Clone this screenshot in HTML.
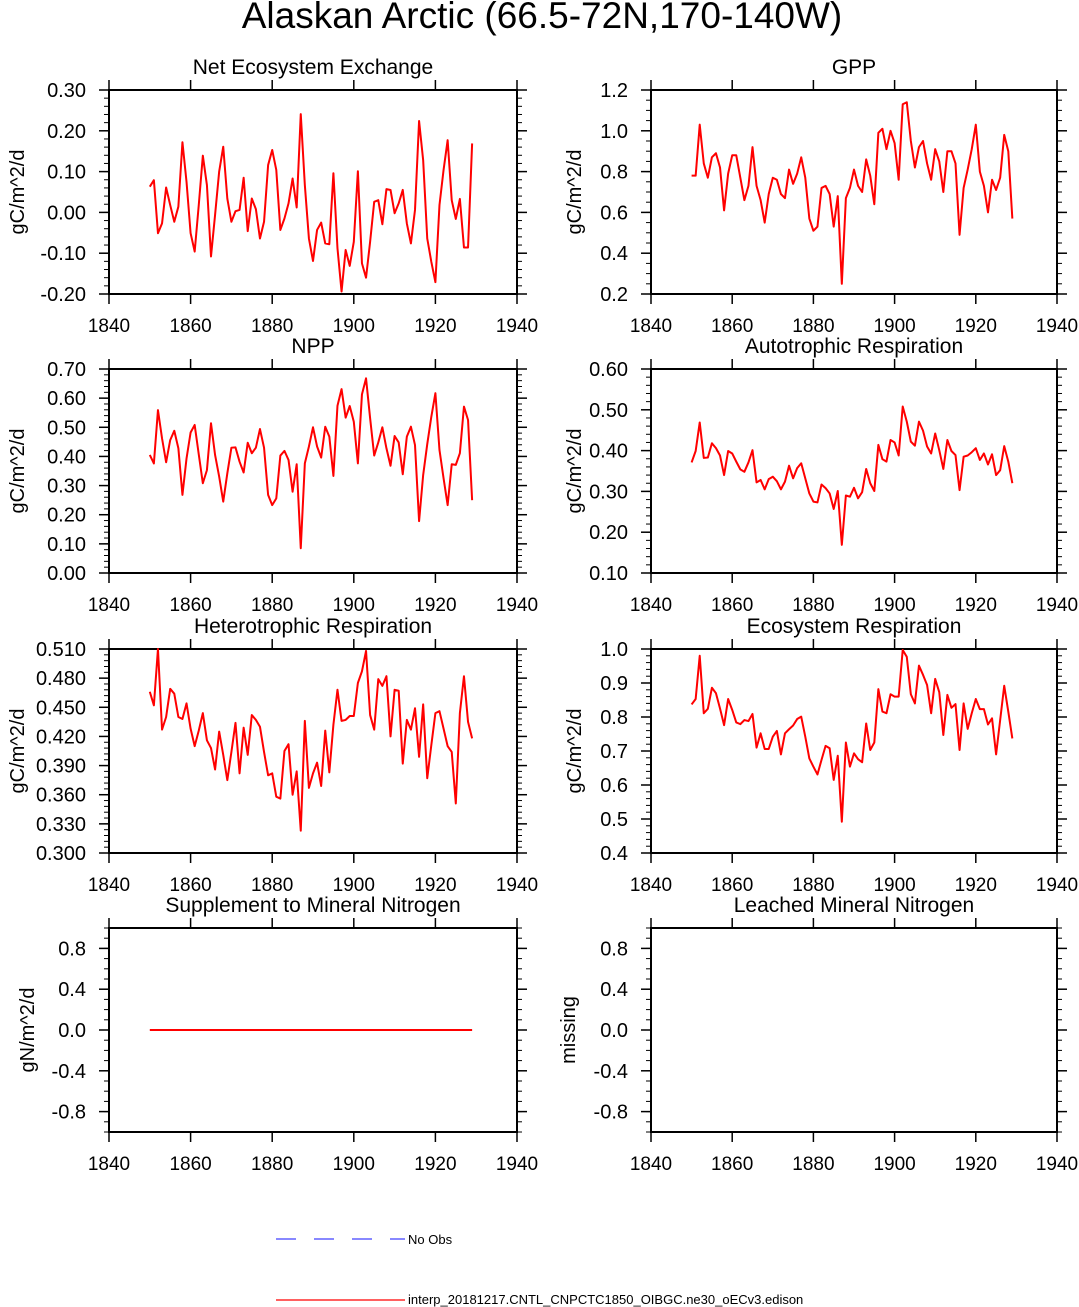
<!DOCTYPE html>
<html><head><meta charset="utf-8"><style>
html,body{margin:0;padding:0;background:#fff;}
svg{display:block;font-family:"Liberation Sans",Arial,sans-serif;}
</style></head><body>
<svg id="chart" width="1079" height="1307" viewBox="0 0 1079 1307" xmlns="http://www.w3.org/2000/svg">
<text x="542" y="28" font-size="37" text-anchor="middle">Alaskan Arctic (66.5-72N,170-140W)</text>
<g>
<line x1="276" y1="1239" x2="405" y2="1239" stroke="#4040ff" stroke-width="1.2" stroke-dasharray="20,18"/>
<text x="408" y="1244" font-size="13">No Obs</text>
<line x1="276" y1="1300" x2="405" y2="1300" stroke="#ff0000" stroke-width="1.2"/>
<text x="408" y="1304" font-size="13">interp_20181217.CNTL_CNPCTC1850_OIBGC.ne30_oECv3.edison</text>
</g>
</svg>
<script>
const years = Array.from({length:80},(_, i)=>1850+i);
const neeValues=[0.063,0.079,-0.051,-0.027,0.061,0.018,-0.023,0.014,0.172,0.075,-0.051,-0.096,0.018,0.139,0.067,-0.108,-0.006,0.1,0.161,0.034,-0.023,0.003,0.006,0.085,-0.046,0.034,0.008,-0.064,-0.023,0.116,0.153,0.104,-0.043,-0.015,0.022,0.083,0.012,0.241,0.067,-0.064,-0.119,-0.043,-0.025,-0.076,-0.078,0.096,-0.088,-0.194,-0.092,-0.131,-0.072,0.101,-0.125,-0.16,-0.072,0.026,0.03,-0.029,0.057,0.055,-0.002,0.022,0.055,-0.027,-0.076,0.006,0.224,0.128,-0.064,-0.121,-0.171,0.018,0.104,0.177,0.03,-0.016,0.033,-0.086,-0.086,0.169];
const gppValues=[0.78,0.78,1.03,0.84,0.77,0.87,0.89,0.82,0.61,0.79,0.88,0.88,0.77,0.66,0.73,0.92,0.73,0.66,0.55,0.69,0.77,0.76,0.69,0.67,0.81,0.74,0.79,0.87,0.77,0.57,0.51,0.53,0.72,0.73,0.69,0.53,0.68,0.25,0.67,0.72,0.81,0.73,0.70,0.86,0.78,0.64,0.99,1.01,0.91,1.0,0.94,0.76,1.13,1.14,0.95,0.82,0.92,0.95,0.84,0.76,0.91,0.85,0.70,0.9,0.9,0.84,0.49,0.72,0.81,0.91,1.03,0.80,0.73,0.60,0.76,0.71,0.77,0.98,0.90,0.57];
const nppValues=[0.405,0.376,0.559,0.462,0.380,0.456,0.488,0.428,0.268,0.393,0.482,0.508,0.407,0.308,0.353,0.514,0.405,0.331,0.245,0.342,0.430,0.431,0.382,0.345,0.447,0.411,0.430,0.494,0.430,0.268,0.233,0.256,0.403,0.419,0.388,0.279,0.373,0.085,0.376,0.434,0.500,0.434,0.396,0.502,0.468,0.333,0.574,0.631,0.533,0.573,0.519,0.376,0.613,0.668,0.531,0.403,0.448,0.500,0.428,0.368,0.470,0.448,0.339,0.468,0.502,0.439,0.178,0.336,0.442,0.536,0.617,0.422,0.325,0.233,0.373,0.371,0.411,0.571,0.525,0.250];
const arValues=[0.371,0.399,0.469,0.382,0.383,0.418,0.406,0.388,0.340,0.399,0.393,0.373,0.354,0.348,0.371,0.401,0.322,0.328,0.305,0.330,0.336,0.325,0.305,0.324,0.363,0.332,0.357,0.369,0.332,0.295,0.275,0.273,0.317,0.308,0.295,0.257,0.301,0.169,0.290,0.287,0.309,0.283,0.298,0.355,0.320,0.301,0.414,0.379,0.373,0.426,0.420,0.388,0.508,0.471,0.422,0.412,0.471,0.449,0.410,0.393,0.442,0.401,0.355,0.426,0.399,0.389,0.303,0.385,0.388,0.396,0.406,0.377,0.393,0.366,0.391,0.340,0.352,0.411,0.373,0.320];
const hrValues=[0.466,0.452,0.510,0.427,0.440,0.469,0.464,0.440,0.438,0.454,0.428,0.410,0.426,0.444,0.416,0.408,0.386,0.425,0.401,0.375,0.404,0.434,0.382,0.429,0.401,0.442,0.437,0.430,0.404,0.380,0.382,0.358,0.356,0.405,0.412,0.360,0.384,0.323,0.436,0.367,0.382,0.393,0.369,0.426,0.383,0.432,0.468,0.436,0.437,0.441,0.441,0.475,0.487,0.508,0.442,0.427,0.479,0.472,0.482,0.420,0.468,0.467,0.392,0.437,0.427,0.449,0.399,0.453,0.377,0.411,0.444,0.446,0.428,0.410,0.404,0.351,0.444,0.482,0.435,0.418];
const erValues=[0.837,0.853,0.980,0.811,0.824,0.886,0.870,0.825,0.776,0.853,0.821,0.784,0.779,0.791,0.788,0.809,0.710,0.752,0.706,0.706,0.742,0.759,0.690,0.752,0.764,0.775,0.794,0.801,0.742,0.678,0.654,0.631,0.674,0.715,0.708,0.615,0.686,0.492,0.725,0.654,0.693,0.676,0.667,0.781,0.703,0.725,0.882,0.816,0.811,0.867,0.860,0.860,0.997,0.977,0.867,0.840,0.951,0.924,0.894,0.811,0.912,0.873,0.747,0.865,0.827,0.838,0.703,0.840,0.765,0.811,0.853,0.823,0.823,0.778,0.796,0.690,0.791,0.892,0.816,0.737];
const snValues=years.map(()=>0);
const xTicks=[1840,1860,1880,1900,1920,1940];

const panels=[
 {name:'nee',title:'Net Ecosystem Exchange',ylab:'gC/m^2/d',col:0,row:0,min:-0.2,max:0.3,step:0.1,dec:2,minor:0.02,vals:neeValues},
 {name:'gpp',title:'GPP',ylab:'gC/m^2/d',col:1,row:0,min:0.2,max:1.2,step:0.2,dec:1,minor:0.05,vals:gppValues},
 {name:'npp',title:'NPP',ylab:'gC/m^2/d',col:0,row:1,min:0,max:0.7,step:0.1,dec:2,minor:0.02,vals:nppValues},
 {name:'autotrophic-respiration',title:'Autotrophic Respiration',ylab:'gC/m^2/d',col:1,row:1,min:0.1,max:0.6,step:0.1,dec:2,minor:0.02,vals:arValues},
 {name:'heterotrophic-respiration',title:'Heterotrophic Respiration',ylab:'gC/m^2/d',col:0,row:2,min:0.3,max:0.51,step:0.03,dec:3,minor:0.006,vals:hrValues},
 {name:'ecosystem-respiration',title:'Ecosystem Respiration',ylab:'gC/m^2/d',col:1,row:2,min:0.4,max:1.0,step:0.1,dec:1,minor:0.02,vals:erValues},
 {name:'supplement-mineral-nitrogen',title:'Supplement to Mineral Nitrogen',ylab:'gN/m^2/d',col:0,row:3,min:-1,max:1,step:0.4,start:-0.8,dec:1,minor:0.1,vals:snValues},
 {name:'leached-mineral-nitrogen',title:'Leached Mineral Nitrogen',ylab:'missing',col:1,row:3,min:-1,max:1,step:0.4,start:-0.8,dec:1,minor:0.1,vals:null}
];
const NS='http://www.w3.org/2000/svg';
const svg=document.getElementById('chart');
function mk(tag,attrs,parent){const e=document.createElementNS(NS,tag);for(const k in attrs)e.setAttribute(k,attrs[k]);parent.appendChild(e);return e;}
const colX=[[109,517],[651,1057]];
const rowY=[90,369,649,928];
const H=204;
panels.forEach(p=>{
  const x0=colX[p.col][0],x1=colX[p.col][1],y0=rowY[p.row],y1=y0+H;
  const g=mk('g',{},svg);
  
  
  const xs=v=>x0+(v-1840)/100*(x1-x0);
  const ys=v=>y1-(v-p.min)/(p.max-p.min)*H;
  const nMin=Math.round((p.max-p.min)/p.minor);
  for(let i=0;i<=nMin;i++){const v=p.min+i*p.minor;const y=ys(v);
    mk('line',{x1:x0-5,x2:x0,y1:y,y2:y,stroke:'#000','stroke-width':1},g);
    mk('line',{x1:x1,x2:x1+5,y1:y,y2:y,stroke:'#000','stroke-width':1},g);}
  const start=p.start!==undefined?p.start:p.min;
  for(let v=start;v<=p.max+1e-9;v+=p.step){const y=ys(v);
    mk('line',{x1:x0-10,x2:x0,y1:y,y2:y,stroke:'#000','stroke-width':1.5},g);
    mk('line',{x1:x1,x2:x1+10,y1:y,y2:y,stroke:'#000','stroke-width':1.5},g);
    const t=mk('text',{x:x0-23,y:y+7,'font-size':20,'text-anchor':'end'},g);
    
    
    let s=v.toFixed(p.dec);if(s.startsWith('-')&&parseFloat(s)===0)s=s.slice(1);t.textContent=s;}
  xTicks.forEach(v=>{const x=xs(v);
    mk('line',{x1:x,x2:x,y1:y1,y2:y1+10,stroke:'#000','stroke-width':1.5},g);
    mk('line',{x1:x,x2:x,y1:y0-10,y2:y0,stroke:'#000','stroke-width':1.5},g);
    const t=mk('text',{x:x,y:y1+38,'font-size':19,'text-anchor':'middle'},g);
    
    
    t.textContent=v;});
  const frame=mk('rect',{x:x0,y:y0,width:x1-x0,height:H,fill:'none',stroke:'#000','stroke-width':2},g);
  
  
  const tt=mk('text',{x:(x0+x1)/2,y:y0-16,'font-size':21,'text-anchor':'middle'},g);
  
  
  tt.textContent=p.title;
  const lx=p.col===0?(p.row===3?34:24):(p.row===3?575:581);
  const yl=mk('text',{x:lx,y:(y0+y1)/2,'font-size':20,'text-anchor':'middle',transform:`rotate(-90 ${lx} ${(y0+y1)/2})`},g);
  
  
  yl.textContent=p.ylab;
  if(p.vals){
    const d=p.vals.map((v,i)=>(i?'L':'M')+xs(years[i]).toFixed(2)+','+ys(v).toFixed(2)).join(' ');
    const path=mk('path',{d:d,fill:'none',stroke:'#ff0000','stroke-width':2,'stroke-linejoin':'round'},g);
    
    
  }
});
</script>
</body></html>
